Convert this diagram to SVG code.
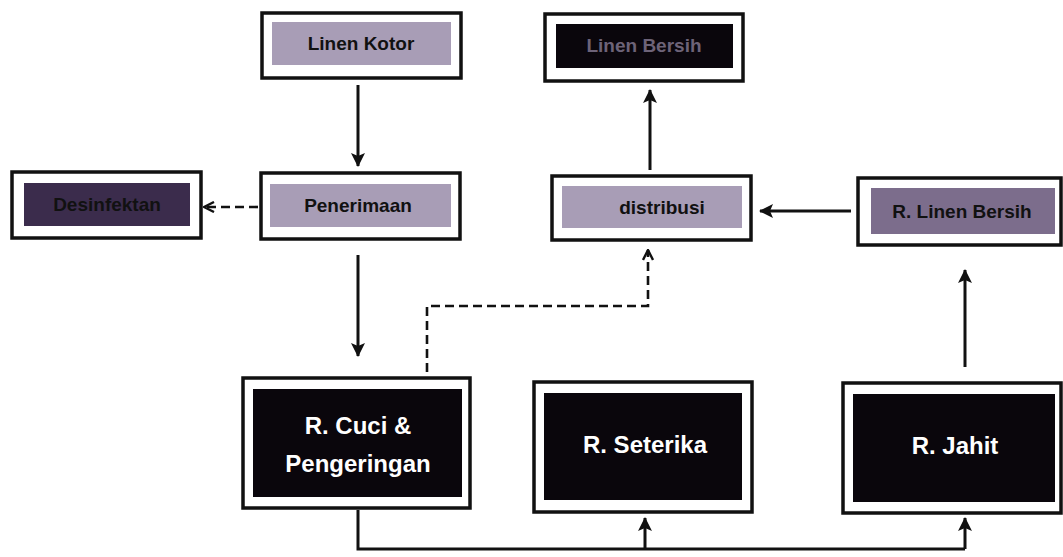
<svg xmlns="http://www.w3.org/2000/svg" width="1063" height="557" viewBox="0 0 1063 557">
  <style>
    .frame { fill: #ffffff; stroke: #111111; stroke-width: 3.5; }
    .light { fill: #a89db6; }
    .mid { fill: #7c6d8c; }
    .dark { fill: #3b2c4c; }
    .black { fill: #0a060c; }
    .lbl { font-family: "Liberation Sans", Arial, sans-serif; font-weight: bold; font-size: 19px; text-anchor: middle; fill: #111111; }
    .lbl-dim { fill: #6d6378; }
    .big { font-family: "Liberation Sans", Arial, sans-serif; font-weight: bold; font-size: 24px; text-anchor: middle; fill: #ffffff; }
    .line { fill: none; stroke: #111111; stroke-width: 3; }
    .dash { fill: none; stroke: #111111; stroke-width: 2.6; stroke-dasharray: 9 5; }
  </style>
  <defs>
    <marker id="head" viewBox="0 0 14 14" refX="13" refY="7" markerWidth="14" markerHeight="14" markerUnits="userSpaceOnUse" orient="auto">
      <path d="M0,0 L14,7 L0,14 L3,7 Z" fill="#111111"/>
    </marker>
    <marker id="open" viewBox="0 0 12 12" refX="11" refY="6" markerWidth="12" markerHeight="12" markerUnits="userSpaceOnUse" orient="auto">
      <path d="M1,1 L11,6 L1,11" fill="none" stroke="#111111" stroke-width="2.4"/>
    </marker>
  </defs>

  <rect width="1063" height="557" fill="#ffffff"/>

  <!-- connectors -->
  <g id="connectors">
    <line class="line" x1="358" y1="85" x2="358" y2="166" marker-end="url(#head)"/>
    <line class="line" x1="358" y1="255" x2="358" y2="356" marker-end="url(#head)"/>
    <line class="dash" x1="258" y1="207" x2="204" y2="207" marker-end="url(#open)"/>
    <polyline class="dash" points="427,372 427,306 648,306 648,250" marker-end="url(#open)"/>
    <line class="line" x1="650" y1="170" x2="650" y2="90" marker-end="url(#head)"/>
    <line class="line" x1="851" y1="211" x2="760" y2="211" marker-end="url(#head)"/>
    <line class="line" x1="965" y1="367" x2="965" y2="270" marker-end="url(#head)"/>
    <polyline class="line" points="358,510 358,549 965,549"/>
    <line class="line" x1="645" y1="549" x2="645" y2="518" marker-end="url(#head)"/>
    <line class="line" x1="965" y1="549" x2="965" y2="518" marker-end="url(#head)"/>
  </g>

  <!-- nodes -->
  <g id="linen-kotor">
    <rect class="frame" x="262" y="13" width="199" height="65"/>
    <rect class="light" x="272" y="22" width="179" height="43"/>
    <text class="lbl" x="361" y="50">Linen Kotor</text>
  </g>

  <g id="linen-bersih">
    <rect class="frame" x="545" y="14" width="198" height="67"/>
    <rect class="black" x="556" y="24" width="177" height="44"/>
    <text class="lbl lbl-dim" x="644" y="52">Linen Bersih</text>
  </g>

  <g id="desinfektan">
    <rect class="frame" x="12" y="172" width="189" height="66"/>
    <rect class="dark" x="24" y="183" width="166" height="43"/>
    <text class="lbl" x="107" y="211">Desinfektan</text>
  </g>

  <g id="penerimaan">
    <rect class="frame" x="261" y="173" width="199" height="66"/>
    <rect class="light" x="270" y="184" width="181" height="43"/>
    <text class="lbl" x="358" y="212">Penerimaan</text>
  </g>

  <g id="distribusi">
    <rect class="frame" x="552" y="176" width="199" height="64"/>
    <rect class="light" x="562" y="186" width="180" height="42"/>
    <text class="lbl" x="662" y="214">distribusi</text>
  </g>

  <g id="r-linen-bersih">
    <rect class="frame" x="858" y="178" width="203" height="67"/>
    <rect class="mid" x="871" y="188" width="184" height="46"/>
    <text class="lbl" x="962" y="218">R. Linen Bersih</text>
  </g>

  <g id="r-cuci">
    <rect class="frame" x="243" y="378" width="227" height="130"/>
    <rect class="black" x="253" y="389" width="209" height="108"/>
    <text class="big" x="358" y="434">R. Cuci &amp;</text>
    <text class="big" x="358" y="472">Pengeringan</text>
  </g>

  <g id="r-seterika">
    <rect class="frame" x="534" y="382" width="218" height="130"/>
    <rect class="black" x="544" y="393" width="198" height="107"/>
    <text class="big" x="645" y="453">R. Seterika</text>
  </g>

  <g id="r-jahit">
    <rect class="frame" x="843" y="383" width="218" height="130"/>
    <rect class="black" x="853" y="394" width="202" height="108"/>
    <text class="big" x="955" y="454">R. Jahit</text>
  </g>
</svg>
